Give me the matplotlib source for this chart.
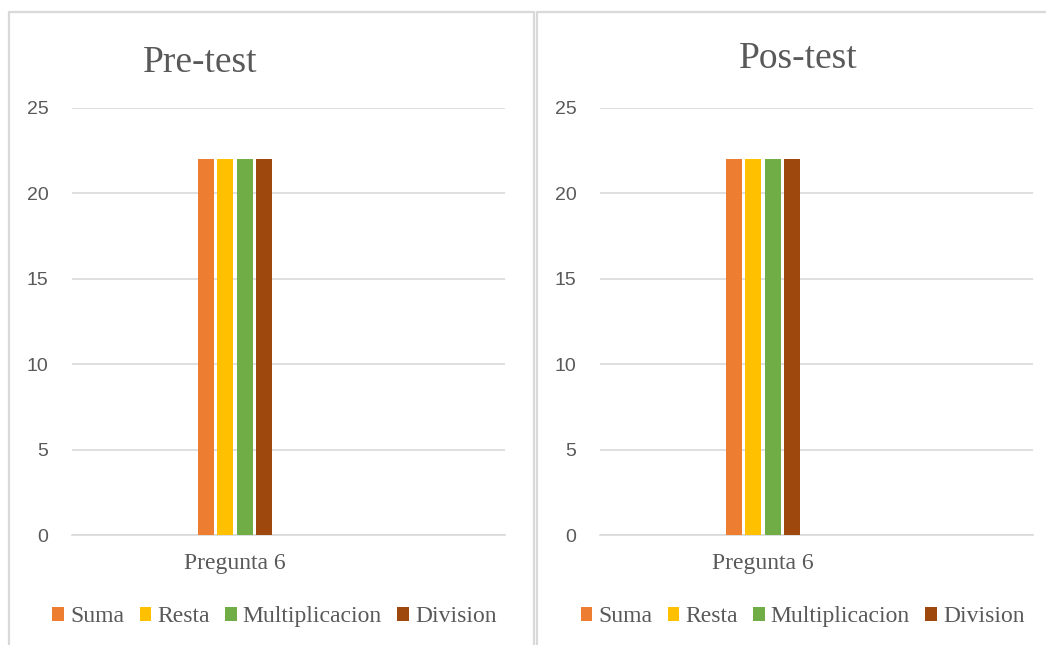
import numpy as np
import matplotlib
matplotlib.use('Agg')
import matplotlib.pyplot as plt
from matplotlib.patches import Rectangle

# datos
categorias = ['Pregunta 6']
series = ['Suma', 'Resta', 'Multiplicacion', 'Division']
colores = ['#ED7D31', '#FFC000', '#70AD47', '#9E480E']
pre_test = [22, 22, 22, 22]
pos_test = [22, 22, 22, 22]
titulos = ['Pre-test', 'Pos-test']
yticks = [0, 5, 10, 15, 20, 25]

W, H = 1046, 645
gris = '#595959'
linea = '#D9D9D9'
serif = ['Liberation Serif', 'DejaVu Serif']
sans = ['Liberation Sans', 'DejaVu Sans']

fig = plt.figure(figsize=(W / 100, H / 100), dpi=100, facecolor='w')

# marcos de los paneles
for x0, x1 in [(9, 534), (537, 1060)]:
    fig.patches.append(Rectangle((x0 / W, -0.1), (x1 - x0) / W, (H - 12) / H + 0.1,
                                 transform=fig.transFigure, fill=False,
                                 edgecolor=linea, linewidth=1.6))

# (izquierda del eje, centro del titulo, linea base del titulo, valores)
paneles = [(72, 200, 72, pre_test), (600, 798, 68, pos_test)]
offsets = np.array([-0.29, -0.097, 0.097, 0.29])
for i, (px, tx, ty, valores) in enumerate(paneles):
    ax = fig.add_axes([px / W, (H - 535) / H, 433 / W, 427 / H])
    x = np.arange(len(categorias))
    for j, nombre in enumerate(series):
        ax.bar(x + offsets[j], [valores[j]], width=0.16, color=colores[j],
               label=nombre, zorder=3)
    ax.set_xlim(-1.63, 2.70)
    ax.set_ylim(0, 25)
    ax.set_yticks(yticks)
    ax.set_xticks(x)
    ax.set_xticklabels(categorias, family=serif, fontsize=17, color=gris)
    for t in ax.get_yticklabels():
        t.set_family(sans)
        t.set_fontsize(14)
        t.set_color(gris)
    ax.tick_params(axis='y', length=0, pad=17)
    ax.tick_params(axis='x', length=0, pad=13)
    ax.grid(axis='y', color=linea, linewidth=1.2, zorder=0)
    for s in ['top', 'right', 'left']:
        ax.spines[s].set_visible(False)
    ax.spines['bottom'].set_color(linea)
    ax.spines['bottom'].set_linewidth(1.2)
    fig.text(tx / W, (H - ty) / H, titulos[i], family=serif, fontsize=27,
             color=gris, ha='center', va='baseline')
    leg = ax.legend(loc='center', bbox_to_anchor=(0.5 - 14 / 433, -0.192),
                    bbox_transform=ax.transAxes, ncol=4, frameon=False,
                    prop={'family': serif, 'size': 17}, handlelength=0.5,
                    handleheight=0.5, handletextpad=0.25, columnspacing=0.65)
    for t in leg.get_texts():
        t.set_color(gris)

fig.savefig('out.png', dpi=100, facecolor='w')
